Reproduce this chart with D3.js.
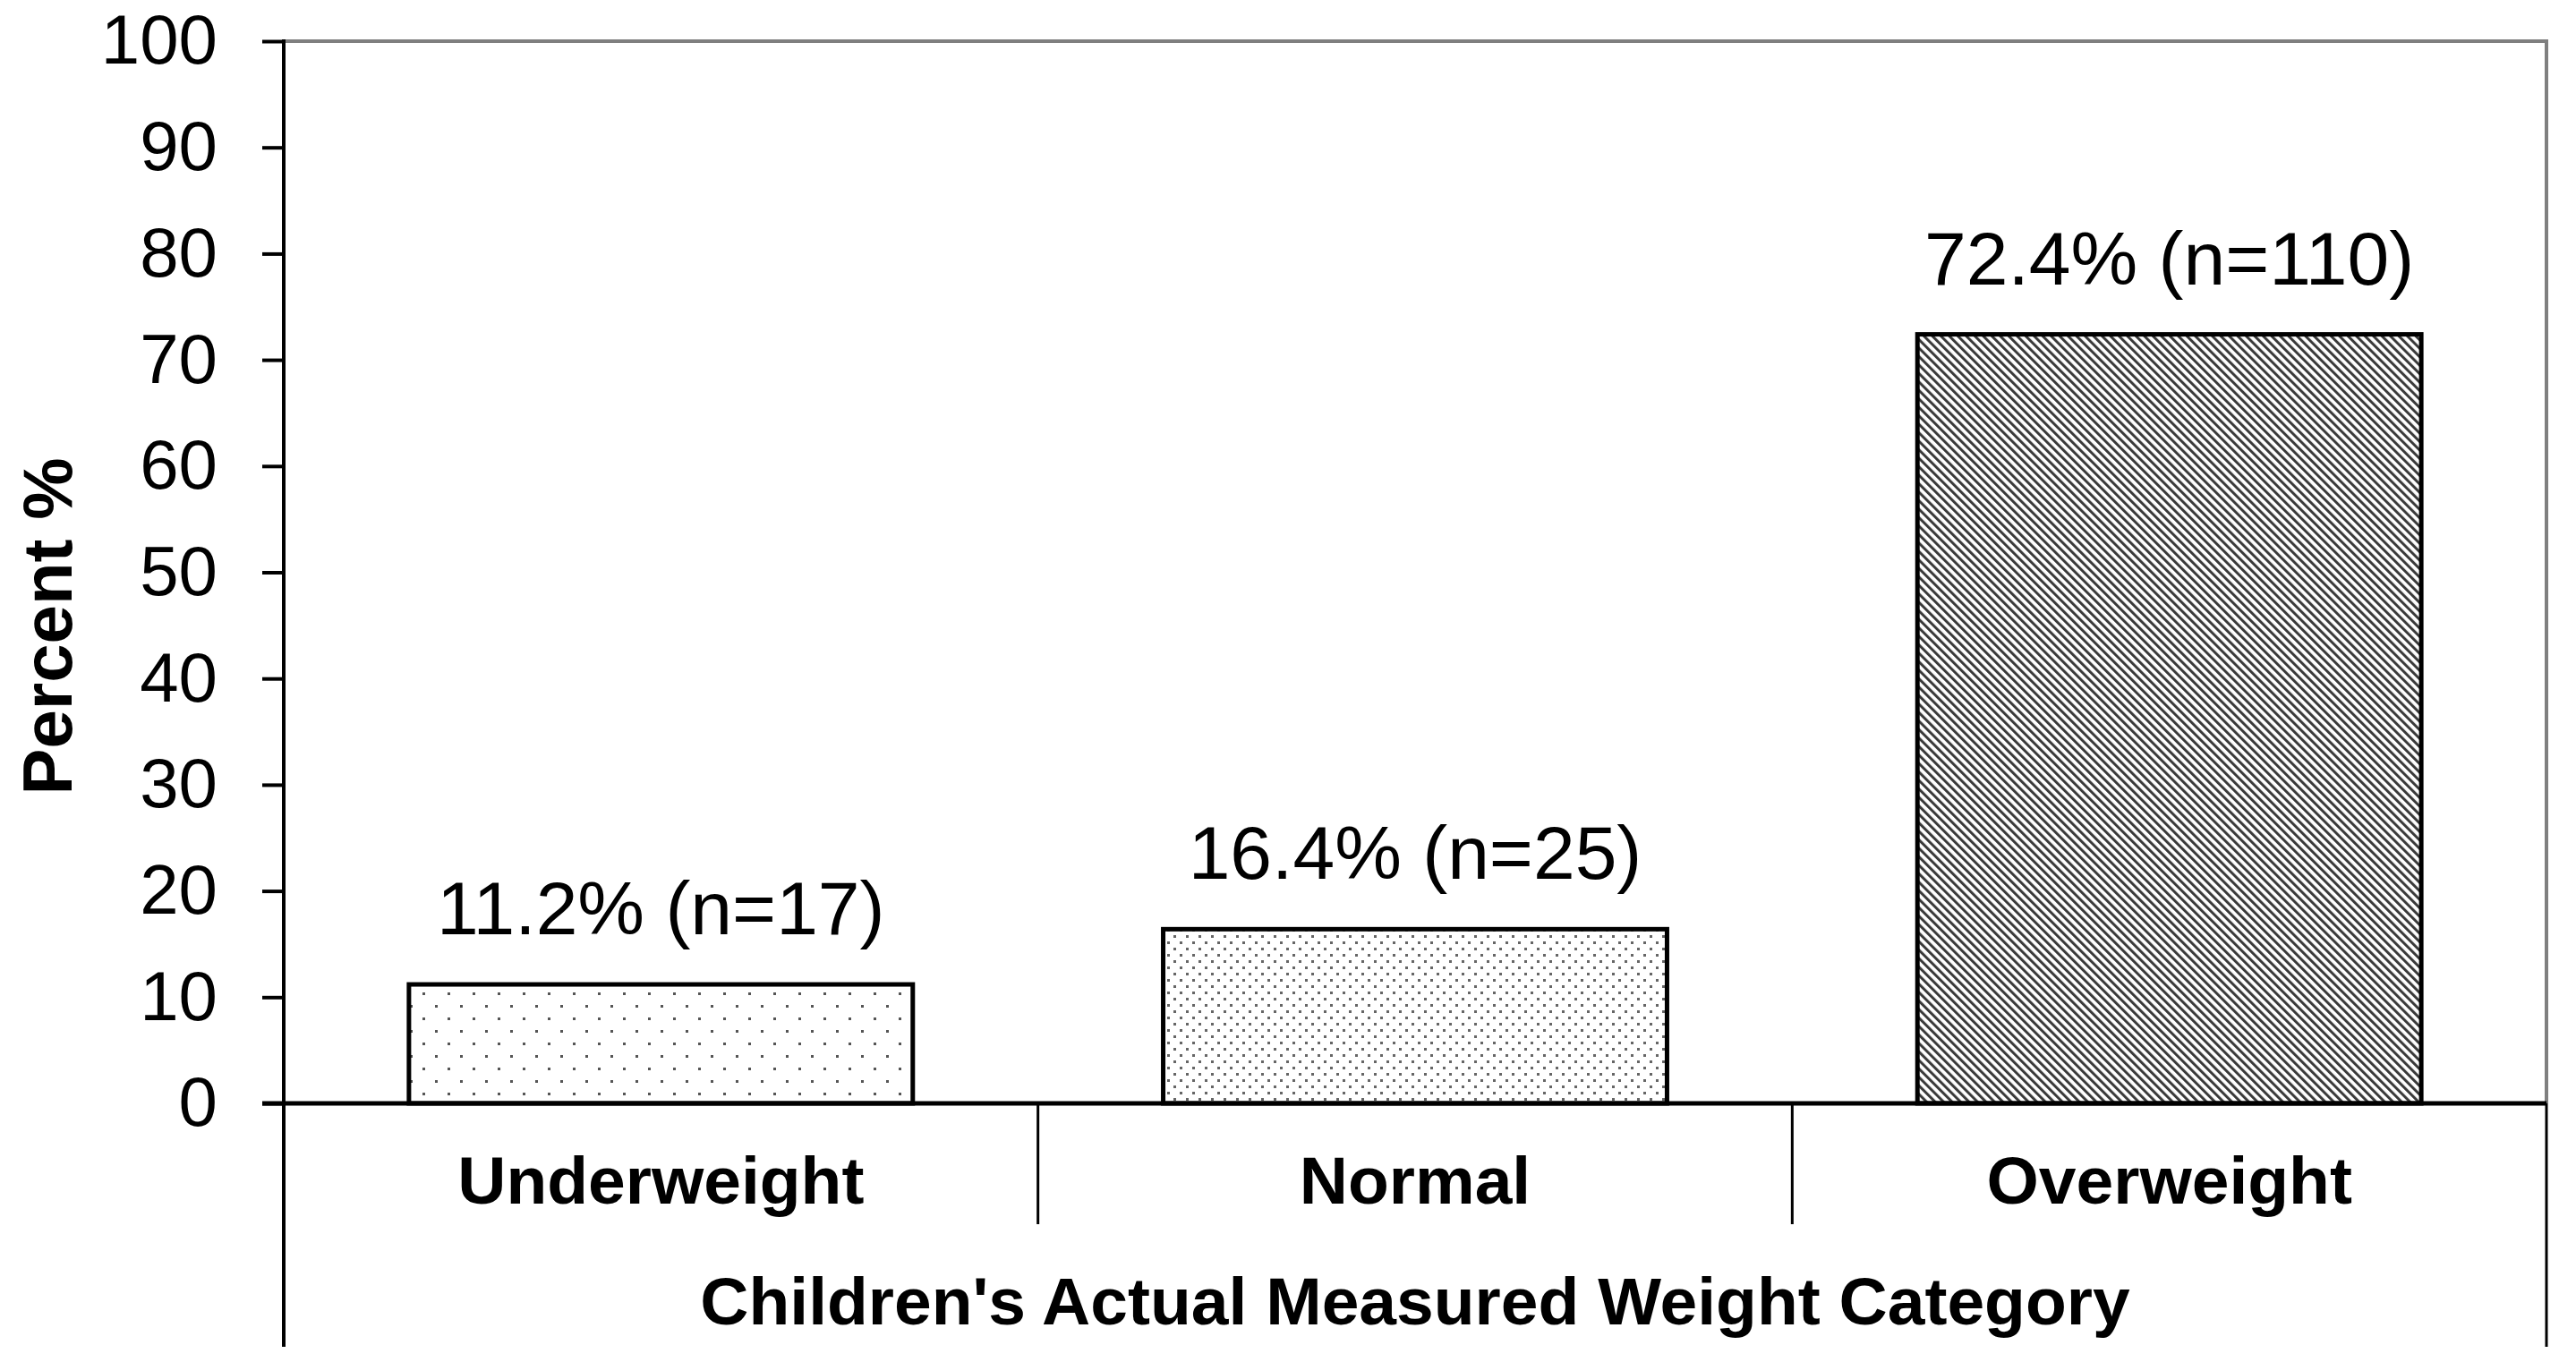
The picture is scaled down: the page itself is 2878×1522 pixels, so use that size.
<!DOCTYPE html>
<html>
<head>
<meta charset="utf-8">
<script src="https://cdn.jsdelivr.net/npm/d3@7"></script>
<style>
  body { margin: 0; background: #fff; }
  text { font-family: 'Liberation Sans', Arial, sans-serif; }
</style>
</head>
<body>
<svg class="chart"></svg>
<script>
// weight category bar chart

var categories = ['Underweight', 'Normal', 'Overweight']
var percents = [11.2, 16.4, 72.4]
var counts = [17, 25, 110]
var patterns = ['dotsSparse', 'dotsDense', 'hatch']
var yTicks = [0, 10, 20, 30, 40, 50, 60, 70, 80, 90, 100]

var xTitle = "Children's Actual Measured Weight Category"
var yTitle = 'Percent %'

var W = 2878, H = 1522
var plotLeft = 317, plotRight = 2845, plotTop = 46, zeroY = 1233, axisBottom = 1505, sepEnd = 1368

var svg = d3.select('.chart')
    .attr('width', W)
    .attr('height', H)

svg.append('rect')
    .attr('width', W)
    .attr('height', H)
    .attr('fill', '#fff')

var defs = svg.append('defs')

// sparse dots
var p1 = defs.append('pattern')
    .attr('id', 'dotsSparse')
    .attr('patternUnits', 'userSpaceOnUse')
    .attr('x', 458).attr('y', 0)
    .attr('width', 28).attr('height', 28)
p1.append('rect').attr('width', 28).attr('height', 28).attr('fill', '#fff')
p1.append('rect').attr('x', 0).attr('y', 3).attr('width', 3).attr('height', 3).attr('fill', '#555')
p1.append('rect').attr('x', 14).attr('y', 17).attr('width', 3).attr('height', 3).attr('fill', '#555')

// dense dots
var p2 = defs.append('pattern')
    .attr('id', 'dotsDense')
    .attr('patternUnits', 'userSpaceOnUse')
    .attr('width', 14).attr('height', 14)
p2.append('rect').attr('width', 14).attr('height', 14).attr('fill', '#fff')
p2.append('rect').attr('x', 2).attr('y', 2).attr('width', 3).attr('height', 3).attr('fill', '#666')
p2.append('rect').attr('x', 9).attr('y', 9).attr('width', 3).attr('height', 3).attr('fill', '#666')

// diagonal hatch
var p3 = defs.append('pattern')
    .attr('id', 'hatch')
    .attr('patternUnits', 'userSpaceOnUse')
    .attr('width', 6.7).attr('height', 20)
    .attr('patternTransform', 'rotate(-45)')
p3.append('rect').attr('width', 6.7).attr('height', 20).attr('fill', '#fff')
p3.append('rect').attr('x', 0).attr('width', 3).attr('height', 20).attr('fill', '#3a3a3a')

var y = d3.scaleLinear()
    .domain([0, 100])
    .range([zeroY, plotTop])

var xCell = d3.scaleBand()
    .domain(categories)
    .range([plotLeft, plotRight])
    .padding(0)

var x = d3.scaleBand()
    .domain(categories)
    .range([plotLeft, plotRight])
    .paddingInner(0.332)
    .paddingOuter(0.166)

// frame top and right
svg.append('path')
    .attr('d', 'M' + plotLeft + ',' + plotTop + 'H' + plotRight + 'V' + zeroY)
    .attr('fill', 'none')
    .attr('stroke', '#7f7f7f')
    .attr('stroke-width', 4)

// bars
svg.selectAll('rect.bar')
    .data(categories)
  .enter().append('rect')
    .attr('class', 'bar')
    .attr('x', function(d) { return x(d) })
    .attr('y', function(d, i) { return y(percents[i]) })
    .attr('width', x.bandwidth())
    .attr('height', function(d, i) { return zeroY - y(percents[i]) })
    .attr('fill', function(d, i) { return 'url(#' + patterns[i] + ')' })
    .attr('stroke', '#000')
    .attr('stroke-width', 5)

// value labels
svg.selectAll('text.value')
    .data(categories)
  .enter().append('text')
    .attr('class', 'value')
    .attr('x', function(d) { return x(d) + x.bandwidth() / 2 })
    .attr('y', function(d, i) { return y(percents[i]) - 56 })
    .attr('text-anchor', 'middle')
    .attr('font-size', 84)
    .attr('fill', '#000')
    .text(function(d, i) { return percents[i].toFixed(1) + '% (n=' + counts[i] + ')' })

// y axis
var yAxis = d3.axisLeft(y)
    .tickValues(yTicks)
    .tickSize(24)
    .tickSizeOuter(0)
    .tickPadding(50)

var gy = svg.append('g')
    .attr('transform', 'translate(' + plotLeft + ',0)')
    .call(yAxis)

gy.select('.domain').remove()
gy.selectAll('.tick line')
    .attr('stroke', '#000')
    .attr('stroke-width', 4)
gy.selectAll('.tick text')
    .attr('font-size', 78)
    .attr('font-family', "'Liberation Sans', Arial, sans-serif")
    .attr('fill', '#000')

svg.append('line')
    .attr('x1', plotLeft).attr('x2', plotLeft)
    .attr('y1', plotTop - 2).attr('y2', axisBottom)
    .attr('stroke', '#000')
    .attr('stroke-width', 4)

// category axis
svg.append('line')
    .attr('x1', plotLeft - 24).attr('x2', plotRight)
    .attr('y1', zeroY).attr('y2', zeroY)
    .attr('stroke', '#000')
    .attr('stroke-width', 5)

svg.selectAll('line.sep')
    .data(categories.slice(1))
  .enter().append('line')
    .attr('class', 'sep')
    .attr('x1', function(d) { return xCell(d) })
    .attr('x2', function(d) { return xCell(d) })
    .attr('y1', zeroY).attr('y2', sepEnd)
    .attr('stroke', '#000')
    .attr('stroke-width', 3)

svg.append('line')
    .attr('x1', plotRight).attr('x2', plotRight)
    .attr('y1', zeroY).attr('y2', axisBottom)
    .attr('stroke', '#000')
    .attr('stroke-width', 3)

svg.selectAll('text.cat')
    .data(categories)
  .enter().append('text')
    .attr('class', 'cat')
    .attr('x', function(d) { return xCell(d) + xCell.bandwidth() / 2 })
    .attr('y', 1345)
    .attr('text-anchor', 'middle')
    .attr('font-size', 75)
    .attr('font-weight', 'bold')
    .text(function(d) { return d })

svg.append('text')
    .attr('x', (plotLeft + plotRight) / 2)
    .attr('y', 1480)
    .attr('text-anchor', 'middle')
    .attr('font-size', 75)
    .attr('font-weight', 'bold')
    .text(xTitle)

svg.append('text')
    .attr('transform', 'translate(80,700) rotate(-90)')
    .attr('text-anchor', 'middle')
    .attr('font-size', 78)
    .attr('font-weight', 'bold')
    .text(yTitle)
</script>
</body>
</html>
